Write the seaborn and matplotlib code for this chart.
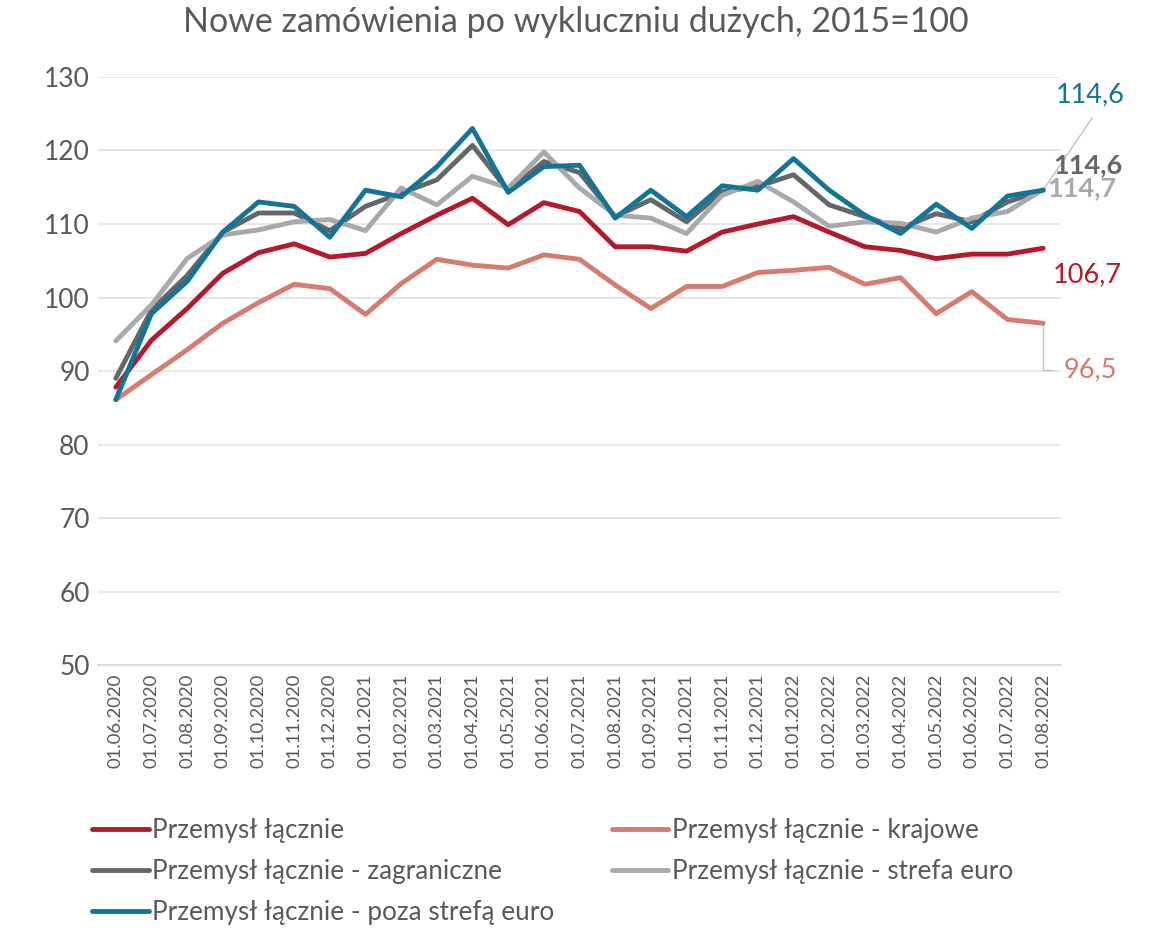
import pandas as pd
import matplotlib.pyplot as plt
import seaborn as sns

dates = ['01.06.2020', '01.07.2020', '01.08.2020', '01.09.2020', '01.10.2020', '01.11.2020',
         '01.12.2020', '01.01.2021', '01.02.2021', '01.03.2021', '01.04.2021', '01.05.2021',
         '01.06.2021', '01.07.2021', '01.08.2021', '01.09.2021', '01.10.2021', '01.11.2021',
         '01.12.2021', '01.01.2022', '01.02.2022', '01.03.2022', '01.04.2022', '01.05.2022',
         '01.06.2022', '01.07.2022', '01.08.2022']

lacznie = [87.8, 94.2, 98.5, 103.3, 106.1, 107.3, 105.5, 106.0, 108.7, 111.2, 113.5, 109.9,
           112.9, 111.7, 106.9, 106.9, 106.3, 108.9, 110.0, 111.0, 108.9, 106.9, 106.4, 105.3,
           105.9, 105.9, 106.7]
krajowe = [86.1, 89.5, 92.9, 96.5, 99.3, 101.8, 101.2, 97.7, 101.9, 105.2, 104.4, 104.0,
           105.8, 105.2, 101.7, 98.5, 101.5, 101.5, 103.4, 103.7, 104.1, 101.8, 102.7, 97.8,
           100.8, 97.0, 96.5]
zagraniczne = [89.0, 98.3, 103.0, 108.9, 111.5, 111.5, 109.1, 112.4, 114.2, 116.0, 120.7, 114.5,
               118.5, 117.0, 111.0, 113.3, 110.3, 114.4, 115.1, 116.7, 112.6, 111.0, 109.4, 111.4,
               110.3, 113.0, 114.6]
strefa_euro = [94.1, 99.0, 105.3, 108.5, 109.2, 110.3, 110.6, 109.1, 114.9, 112.6, 116.5, 114.9,
               119.8, 114.9, 111.2, 110.8, 108.7, 113.9, 115.8, 113.0, 109.7, 110.3, 110.1, 108.9,
               110.8, 111.7, 114.7]
poza_euro = [86.1, 97.8, 102.2, 108.9, 113.0, 112.4, 108.2, 114.6, 113.7, 117.8, 123.0, 114.3,
             117.8, 118.0, 110.8, 114.6, 111.0, 115.2, 114.6, 118.9, 114.6, 111.2, 108.7, 112.7,
             109.4, 113.8, 114.6]

names = ['Przemysł łącznie', 'Przemysł łącznie - krajowe', 'Przemysł łącznie - zagraniczne',
         'Przemysł łącznie - strefa euro', 'Przemysł łącznie - poza strefą euro']
series = [lacznie, krajowe, zagraniczne, strefa_euro, poza_euro]
colors = ['#B5192B', '#D67B6E', '#63676A', '#A7A9AC', '#137594']

rows = []
for name, vals in zip(names, series):
    for i, v in enumerate(vals):
        rows.append({'idx': i, 'value': v, 'series': name})
df = pd.DataFrame(rows)

sns.set_theme(style='white')
plt.rcParams['font.family'] = ['Lato', 'DejaVu Sans']
txt = '#595959'

fig = plt.figure(figsize=(11.52, 9.3), dpi=100)
ax = fig.add_axes([98 / 1152, 1 - 665 / 930, (1061 - 98) / 1152, (665 - 77) / 930])

# draw in order so blue ends on top
order = [1, 0, 3, 2, 4]
for k in order:
    sub = df[df['series'] == names[k]]
    sns.lineplot(data=sub, x='idx', y='value', color=colors[k], lw=3.5,
                 ax=ax, label=names[k], zorder=3 + k)

ax.set_xlim(-0.5, len(dates) - 0.5)
ax.set_ylim(50, 130)
ax.set_yticks(range(50, 131, 10))
ax.set_xticks(range(len(dates)))
ax.set_xticklabels(dates, rotation=90, fontsize=13.3, color=txt)
ax.tick_params(axis='y', labelsize=19, colors=txt, length=0, pad=6)
ax.tick_params(axis='x', length=0, pad=6)
ax.set_xlabel('')
ax.set_ylabel('')
ax.grid(axis='y', color='#E4E4E4', lw=1.3)
ax.set_axisbelow(True)
for s in ['top', 'right', 'left']:
    ax.spines[s].set_visible(False)
ax.spines['bottom'].set_color('#D9D9D9')
ax.spines['bottom'].set_linewidth(1.3)

fig.text(0.5, 1 - 22 / 930, 'Nowe zamówienia po wykluczniu dużych, 2015=100',
         ha='center', va='center', fontsize=24.5, color=txt)

# end labels
last = len(dates) - 1
ax.annotate('', xy=(last, poza_euro[-1]), xytext=(1092, 812), textcoords='figure pixels',
            arrowprops=dict(arrowstyle='-', color='#BFBFBF', lw=1, shrinkA=0, shrinkB=0))
ax.text(1056, 835, '114,6', transform=None, color=colors[4], fontsize=19.5,
        ha='left', va='center')
ax.text(1053, 765, '114,6', transform=None, color=colors[2], fontsize=19.5,
        fontweight='bold', ha='left', va='center')
ax.text(1047, 742, '114,7', transform=None, color=colors[3], fontsize=19.5,
        fontweight='bold', ha='left', va='center')
ax.text(1053, 655, '106,7', transform=None, color=colors[0], fontsize=19.5,
        ha='left', va='center')
ax.annotate('96,5', xy=(last, krajowe[-1]), xytext=(1064, 560), textcoords='figure pixels',
            color=colors[1], fontsize=19.5, ha='left', va='center',
            arrowprops=dict(arrowstyle='-', color='#BFBFBF', lw=1, shrinkA=6, shrinkB=0,
                            connectionstyle='angle,angleA=0,angleB=90,rad=0'))

handles, labels = ax.get_legend_handles_labels()
hmap = dict(zip(labels, handles))
leg_order = [names[0], names[2], names[4], names[1], names[3]]
ax.get_legend().remove()
leg = fig.legend([hmap[n] for n in leg_order], leg_order, loc='lower left',
                 bbox_to_anchor=(82 / 1152, -0.006), borderaxespad=0, ncol=2, frameon=False,
                 fontsize=18.8, handlelength=2.15, handletextpad=0.15, columnspacing=2.2,
                 labelspacing=0.62)
for t in leg.get_texts():
    t.set_color(txt)

fig.savefig('out.png', dpi=100)
